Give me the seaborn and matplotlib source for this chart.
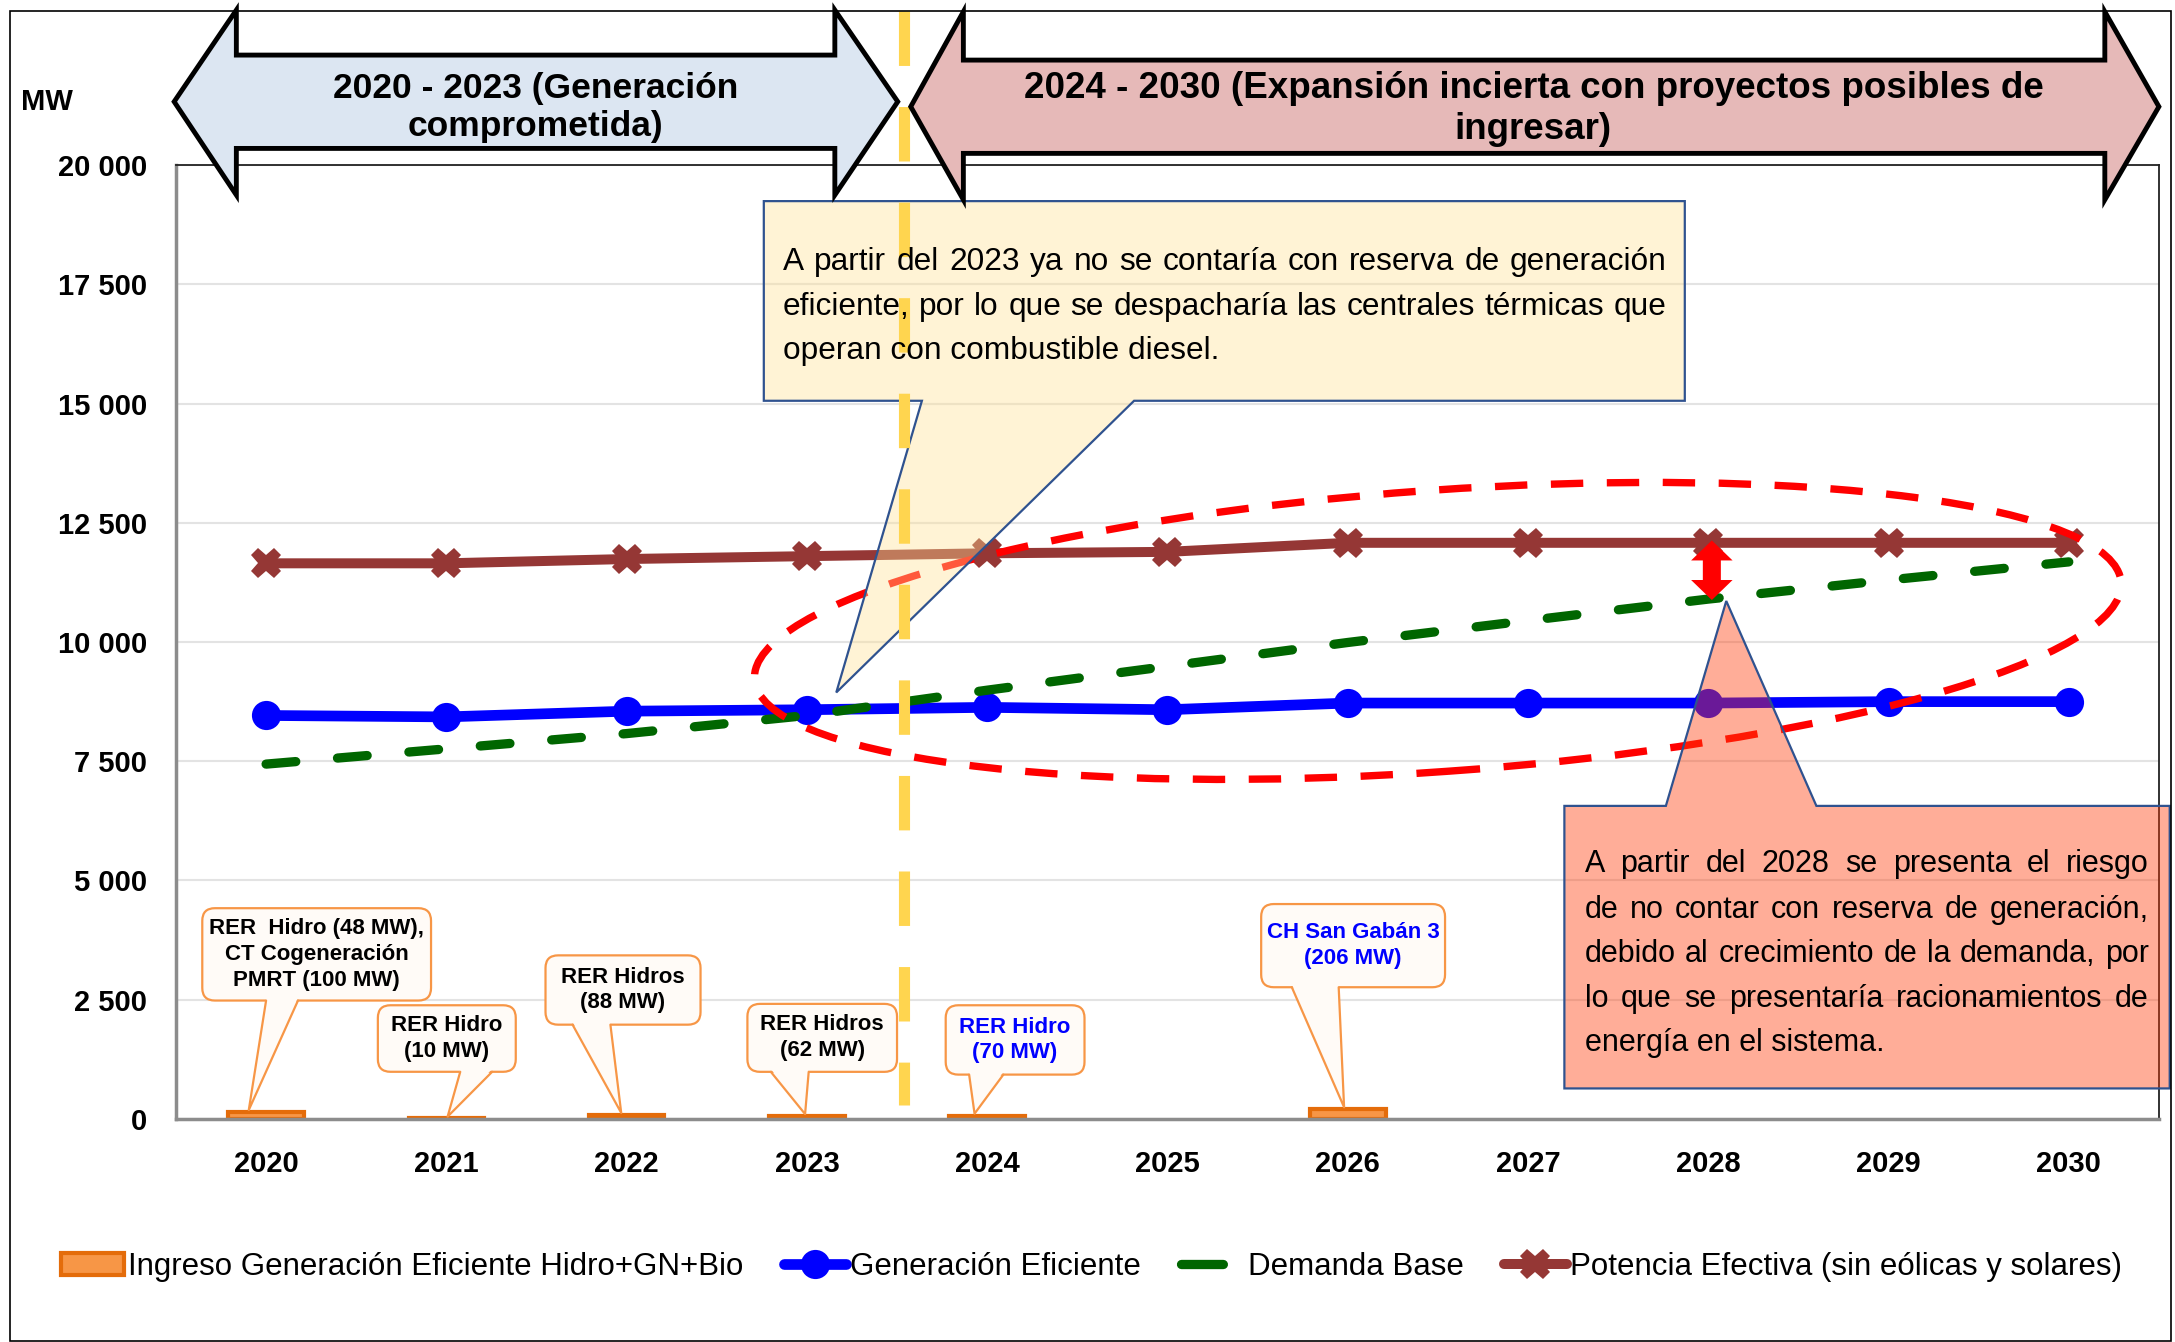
import numpy as np
import matplotlib
matplotlib.use("Agg")
import matplotlib.pyplot as plt
import seaborn as sns
from matplotlib.colors import to_rgba
from matplotlib.lines import Line2D
from matplotlib.patches import Ellipse, FancyBboxPatch, Patch, Polygon, Rectangle
from matplotlib.ticker import FuncFormatter
from matplotlib.transforms import Affine2D

# ---- values (MW) ----
years = ["2020", "2021", "2022", "2023", "2024", "2025", "2026", "2027", "2028", "2029", "2030"]
ingreso_mw = [148, 10, 88, 62, 70, 0, 206, 0, 0, 0, 0]
generacion_eficiente = [8460, 8430, 8550, 8580, 8630, 8580, 8720, 8720, 8720, 8750, 8750]
demanda_base = [7440, 7760, 8080, 8460, 8990, 9490, 9990, 10450, 10900, 11300, 11680]
potencia_efectiva = [11650, 11650, 11740, 11800, 11860, 11890, 12080, 12080, 12080, 12080, 12080]
y_ticks = [0, 2500, 5000, 7500, 10000, 12500, 15000, 17500, 20000]

legend_labels = ["Ingreso Generación Eficiente Hidro+GN+Bio", "Generación Eficiente",
                 "Demanda Base", "Potencia Efectiva (sin eólicas y solares)"]
periodo_1 = ["2020 - 2023 (Generación", "comprometida)"]
periodo_2 = ["2024 - 2030 (Expansión incierta con proyectos posibles de", "ingresar)"]
nota_2023 = ["A partir del 2023 ya no se contaría con reserva de generación",
             "eficiente, por lo que se despacharía las centrales térmicas que",
             "operan con combustible diesel."]
nota_2028 = ["A partir del 2028 se presenta el  riesgo",
             "de no contar con reserva de generación,",
             "debido al crecimiento de la demanda, por",
             "lo que se presentaría racionamientos de",
             "energía en el sistema."]
proyectos = ["RER  Hidro (48 MW),\nCT Cogeneración\nPMRT (100 MW)", "RER Hidro\n(10 MW)",
             "RER Hidros\n(88 MW)", "RER Hidros\n(62 MW)", "RER Hidro\n(70 MW)",
             "CH San Gabán 3\n(206 MW)"]
proyecto_year = [0, 1, 2, 3, 4, 6]
proyecto_color = ["black", "black", "black", "black", "#0000FF", "#0000FF"]

ORANGE, ORANGE_EDGE = "#F79646", "#E46C0A"
BLUE, GREEN, BROWN = "#0000FF", "#006600", "#953735"
BOX_EDGE = "#2F528F"
FONT = "Liberation Sans"

sns.set_style("white")
plt.rcParams["font.family"] = [FONT, "DejaVu Sans"]
plt.rcParams["text.color"] = "black"

fig = plt.figure(figsize=(21.75, 13.42), dpi=100)
ax = fig.add_axes([0.0809, 0.1662, 0.9117, 0.7108])
x = np.arange(len(years))

# bars (only years with new capacity)
bx = [i for i, v in enumerate(ingreso_mw) if v > 0]
bv = [v for v in ingreso_mw if v > 0]
sns.barplot(x=bx, y=bv, native_scale=True, width=0.42, color=ORANGE, saturation=1,
            edgecolor=ORANGE_EDGE, linewidth=3, ax=ax, zorder=2)

sns.lineplot(x=x, y=generacion_eficiente, color=BLUE, lw=7.7, marker="o", markersize=21,
             markeredgewidth=0, ax=ax, zorder=3)
sns.lineplot(x=x, y=demanda_base, color=GREEN, lw=6.7, linestyle=(0, (3.2, 4.5)),
             dash_capstyle="round", ax=ax, zorder=3.5)
sns.lineplot(x=x, y=potencia_efectiva, color=BROWN, lw=7.2, marker="X", markersize=22,
             markeredgewidth=0, ax=ax, zorder=3)

# axes styling
ax.set_xlim(-0.5, len(years) - 0.5)
ax.set_ylim(0, 20000)
ax.set_xlabel("")
ax.set_ylabel("")
ax.set_xticks(x)
ax.set_xticklabels(years)
ax.set_xticks(np.arange(-0.5, len(years)), minor=True)
ax.tick_params(axis="x", which="major", length=0, pad=22, labelsize=21, labelcolor="black")
ax.tick_params(axis="x", which="minor", length=7, width=1.5, color="#8C8C8C", direction="out")
ax.set_yticks(y_ticks)
ax.yaxis.set_major_formatter(FuncFormatter(lambda v, p: f"{v:,.0f}".replace(",", " ")))
ax.tick_params(axis="y", length=7, width=1.5, color="#8C8C8C", pad=14, labelsize=21,
               direction="out", labelcolor="black")
plt.setp(ax.get_xticklabels() + ax.get_yticklabels(), fontweight="bold")
ax.yaxis.grid(True, color="#E3E3E3", lw=1.5)
ax.set_axisbelow(True)
for s in ["left", "bottom"]:
    ax.spines[s].set_color("#8C8C8C")
    ax.spines[s].set_linewidth(2.5)
for s in ["top", "right"]:
    ax.spines[s].set_color("#222222")
    ax.spines[s].set_linewidth(1.3)

# ---- top period arrows ----
def block_arrow(tip0, base0, base1, tip1, body_lo, body_hi, head_lo, head_hi, mid, fc):
    pts = [(tip0, mid), (base0, head_hi), (base0, body_hi), (base1, body_hi), (base1, head_hi),
           (tip1, mid), (base1, head_lo), (base1, body_lo), (base0, body_lo), (base0, head_lo)]
    ax.add_patch(Polygon(pts, closed=True, fc=fc, ec="black", lw=3.5, joinstyle="miter",
                         clip_on=False, zorder=7))

block_arrow(-0.51, -0.165, 3.155, 3.504, 20349, 22306, 19372, 23250, 21329, "#DCE6F2")
block_arrow(3.576, 3.868, 10.2, 10.5, 20245, 22201, 19273, 23215, 21224, "#E6B9B8")
for txt, yy in zip(periodo_1, [21610, 20805]):
    ax.text(1.495, yy, txt, ha="center", va="center", fontsize=25.5, fontweight="bold",
            zorder=8, clip_on=False)
for txt, yy in zip(periodo_2, [21610, 20736]):
    ax.text(7.03, yy, txt, ha="center", va="center", fontsize=26.5, fontweight="bold",
            zorder=8, clip_on=False)
fig.text(0.0097, 0.924, "MW", fontsize=21, fontweight="bold", ha="left", va="center")

# ---- dashed red ellipse around the critical zone ----
k = 3780.0  # MW per category unit at the drawn aspect
ell = Ellipse((6.5, 10233 / k), 7.6, 1.561, angle=4.06,
              transform=Affine2D().scale(1, k) + ax.transData,
              fill=False, ec="#FF0000", lw=5.3, linestyle=(0, (4.4, 3.2)), zorder=4, clip_on=False)
ax.add_patch(ell)

# ---- big callouts ----
def callout(x0, x1, y0, y1, b0, b1, tip, fc, alpha):
    if tip[1] < y0:
        pts = [(x0, y1), (x1, y1), (x1, y0), (b1, y0), tip, (b0, y0), (x0, y0)]
    else:
        pts = [(x0, y0), (x1, y0), (x1, y1), (b1, y1), tip, (b0, y1), (x0, y1)]
    ax.add_patch(Polygon(pts, closed=True, fc=to_rgba(fc, alpha), ec=BOX_EDGE, lw=1.6,
                         clip_on=False, zorder=5))

renderer = fig.canvas.get_renderer()

def text_width(s, size):
    t = ax.text(0, 0, s, fontsize=size, family=FONT)
    w = t.get_window_extent(renderer).width
    t.remove()
    return w

def justified(lines, x0, x1, baselines, size):
    d0 = ax.transData.transform((x0, 0))[0]
    d1 = ax.transData.transform((x1, 0))[0]
    # shrink the font if a line would not fit at its natural spacing
    widest = max(text_width(l, size) for l in lines)
    size = size * min(1.0, (d1 - d0) / widest * 0.995)
    for i, (line, yb) in enumerate(zip(lines, baselines)):
        words = line.split()
        kw = dict(fontsize=size, family=FONT, va="baseline", ha="left", zorder=6, clip_on=False)
        if i == len(lines) - 1:
            ax.text(x0, yb, line, **kw)
            continue
        widths = [text_width(w, size) for w in words]
        gap = (d1 - d0 - sum(widths)) / (len(words) - 1)
        xd = d0
        for w, wd in zip(words, widths):
            xx = ax.transData.inverted().transform((xd, 0))[0]
            ax.text(xx, yb, w, **kw)
            xd += wd + gap

callout(2.761, 7.87, 15058, 19244, 3.638, 4.815, (3.163, 8942), "#FFE196", 0.4)
justified(nota_2023, 2.868, 7.768, [17791, 16861, 15931], 25)

callout(7.202, 10.56, 640, 6564, 7.765, 8.60, (8.1, demanda_base[8] - 40), "#FF3C0A", 0.42)
justified(nota_2028, 7.314, 10.444, [5174, 4215, 3285, 2355, 1424], 25)

# red block double arrow: gap between capacity and demand in 2028
cx, hw, sw, hl = 8.02, 0.115, 0.05, 420
top, bot = potencia_efectiva[8] + 50, demanda_base[8] - 20
ax.add_patch(Polygon([(cx, top), (cx + hw, top - hl), (cx + sw, top - hl), (cx + sw, bot + hl),
                      (cx + hw, bot + hl), (cx, bot), (cx - hw, bot + hl), (cx - sw, bot + hl),
                      (cx - sw, top - hl), (cx - hw, top - hl)],
                     closed=True, fc="#FF0000", ec="none", zorder=6))

# ---- yellow divider 2023 | 2024 ----
ax.plot([3.54, 3.54], [23227, 290], color="#FFD54F", lw=8, linestyle=(0, (4.9, 3.7)),
        dash_capstyle="butt", clip_on=False, zorder=5.5)

# ---- small project callouts ----
boxes = [(-0.354, 0.915, 2483, 4419, 0.0, 0.177, -0.096),
         (0.62, 1.385, 989, 2384, 1.077, 1.254, 1.007),
         (1.55, 2.41, 1977, 3430, 1.70, 1.91, 1.97),
         (2.67, 3.50, 988, 2413, 2.80, 3.01, 2.99),
         (3.77, 4.54, 930, 2384, 3.90, 4.09, 3.93),
         (5.52, 6.54, 2762, 4506, 5.69, 5.95, 5.98)]
for (x0, x1, y0, y1, b0, b1, tx), txt, idx, col in zip(boxes, proyectos, proyecto_year, proyecto_color):
    fill = "#FFFBF7"
    ax.add_patch(FancyBboxPatch((x0, y0), x1 - x0, y1 - y0,
                                boxstyle="round,pad=0,rounding_size=0.07", mutation_aspect=k,
                                fc=fill, ec=ORANGE, lw=1.6, zorder=5))
    ty = ingreso_mw[idx] + 40
    ax.add_patch(Polygon([(b0, y0 + 60), (b1, y0 + 60), (tx, ty)], closed=True, fc=fill,
                         ec="none", zorder=5.1))
    ax.plot([b0, tx, b1], [y0, ty, y0], color=ORANGE, lw=1.6, zorder=5.2)
    ax.text((x0 + x1) / 2, (y0 + y1) / 2, txt, ha="center", va="center", fontsize=16,
            fontweight="bold", color=col, linespacing=1.3, zorder=6)

# ---- legend ----
handles = [Patch(facecolor=ORANGE, edgecolor=ORANGE_EDGE, lw=3),
           Line2D([], [], color=BLUE, lw=7.7, marker="o", ms=21, mew=0),
           Line2D([], [], color=GREEN, lw=6.7, linestyle=(0, (4.5, 10)), dash_capstyle="round"),
           Line2D([], [], color=BROWN, lw=7.2, marker="X", ms=22, mew=0)]
fig.legend(handles, legend_labels, loc="center", bbox_to_anchor=(0.502, 0.056), ncol=4,
           frameon=False, prop={"family": FONT, "size": 22.5}, handlelength=2.0,
           handletextpad=0.12, columnspacing=1.3, borderpad=0)

# outer frame
fig.patches.append(Rectangle((0.0046, 0.001), 0.9936, 0.9908, transform=fig.transFigure,
                             fill=False, ec="black", lw=1.2))

fig.savefig("out.png", dpi=100)
